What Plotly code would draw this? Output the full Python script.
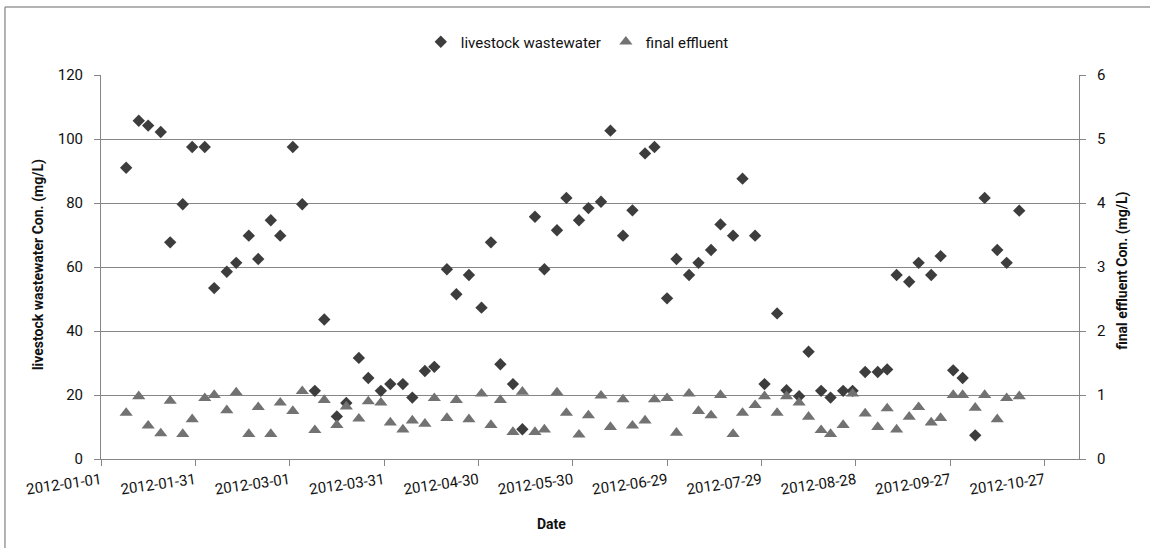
import plotly.graph_objects as go

# Sampling dates (twice a week, 2012)
dates = [
    "2012-01-09", "2012-01-13", "2012-01-16", "2012-01-20", "2012-01-23", "2012-01-27",
    "2012-01-30", "2012-02-03", "2012-02-06", "2012-02-10", "2012-02-13", "2012-02-17",
    "2012-02-20", "2012-02-24", "2012-02-27", "2012-03-02", "2012-03-05", "2012-03-09",
    "2012-03-12", "2012-03-16", "2012-03-19", "2012-03-23", "2012-03-26", "2012-03-30",
    "2012-04-02", "2012-04-06", "2012-04-09", "2012-04-13", "2012-04-16", "2012-04-20",
    "2012-04-23", "2012-04-27", "2012-05-01", "2012-05-04", "2012-05-07", "2012-05-11",
    "2012-05-14", "2012-05-18", "2012-05-21", "2012-05-25", "2012-05-28", "2012-06-01",
    "2012-06-04", "2012-06-08", "2012-06-11", "2012-06-15", "2012-06-18", "2012-06-22",
    "2012-06-25", "2012-06-29", "2012-07-02", "2012-07-06", "2012-07-09", "2012-07-13",
    "2012-07-16", "2012-07-20", "2012-07-23", "2012-07-27", "2012-07-30", "2012-08-03",
    "2012-08-06", "2012-08-10", "2012-08-13", "2012-08-17", "2012-08-20", "2012-08-24",
    "2012-08-27", "2012-08-31", "2012-09-04", "2012-09-07", "2012-09-10", "2012-09-14",
    "2012-09-17", "2012-09-21", "2012-09-24", "2012-09-28", "2012-10-01", "2012-10-05",
    "2012-10-08", "2012-10-12", "2012-10-15", "2012-10-19",
]

# Livestock wastewater concentration (mg/L), left axis
livestock = [
    91.0, 105.7, 104.2, 102.2, 67.7, 79.6,
    97.5, 97.5, 53.4, 58.5, 61.3, 69.8,
    62.5, 74.6, 69.8, 97.5, 79.6, 21.3,
    43.6, 13.3, 17.5, 31.6, 25.3, 21.3,
    23.4, 23.4, 19.2, 27.5, 28.8, 59.3,
    51.5, 57.5, 47.3, 67.7, 29.6, 23.4,
    9.3, 75.7, 59.3, 71.5, 81.6, 74.6,
    78.4, 80.4, 102.6, 69.8, 77.7, 95.5,
    97.5, 50.2, 62.5, 57.5, 61.3, 65.3,
    73.3, 69.8, 87.6, 69.8, 23.4, 45.5,
    21.5, 19.6, 33.5, 21.3, 19.2, 21.3,
    21.3, 27.2, 27.2, 28.0, 57.5, 55.4,
    61.3, 57.5, 63.4, 27.7, 25.3, 7.4,
    81.6, 65.3, 61.3, 77.6,
]

# Final effluent concentration (mg/L), right axis
effluent = [
    0.72, 0.98, 0.52, 0.40, 0.91, 0.39,
    0.62, 0.95, 1.00, 0.76, 1.04, 0.39,
    0.81, 0.39, 0.88, 0.75, 1.06, 0.45,
    0.92, 0.53, 0.82, 0.63, 0.90, 0.88,
    0.57, 0.46, 0.60, 0.55, 0.95, 0.64,
    0.92, 0.62, 1.02, 0.53, 0.92, 0.42,
    1.05, 0.42, 0.46, 1.04, 0.72, 0.38,
    0.68, 0.99, 0.50, 0.93, 0.52, 0.60,
    0.93, 0.95, 0.41, 1.02, 0.75, 0.68,
    1.00, 0.39, 0.72, 0.84, 0.98, 0.72,
    0.98, 0.88, 0.66, 0.45, 0.39, 0.53,
    1.02, 0.71, 0.50, 0.79, 0.46, 0.66,
    0.81, 0.57, 0.64, 1.00, 1.00, 0.80,
    1.00, 0.62, 0.95, 0.98,
]

FONT = "Roboto"
AXIS_GRAY = "#868686"
TEXT = "#111111"

fig = go.Figure()
fig.add_trace(go.Scatter(
    x=dates, y=livestock, mode="markers", name="livestock wastewater",
    marker=dict(symbol="diamond", size=9.5, color="#3d3d3d"),
    yaxis="y",
))
fig.add_trace(go.Scatter(
    x=dates, y=effluent, mode="markers", name="final effluent",
    marker=dict(symbol="triangle-up", size=11.5, color="#727272"),
    yaxis="y2",
))

fig.update_layout(
    width=1150, height=548,
    margin=dict(l=101, r=71, t=75, b=89),
    paper_bgcolor="white", plot_bgcolor="white",
    font=dict(family=FONT, size=15, color=TEXT),
    showlegend=True,
    legend=dict(
        orientation="h", x=0.487, y=1.086, xanchor="center", yanchor="middle",
        font=dict(family=FONT, size=15, color=TEXT),
        itemwidth=30, tracegroupgap=0,
    ),
    xaxis=dict(
        type="date",
        range=["2012-01-01", "2012-11-07"],
        tick0="2012-01-01", dtick=30 * 86400000,
        tickformat="%Y-%m-%d", tickangle=-8,
        showgrid=False, zeroline=False,
        showline=True, linecolor=AXIS_GRAY, linewidth=1,
        ticks="outside", ticklen=6, tickcolor=AXIS_GRAY,
        tickfont=dict(family=FONT, size=15, color=TEXT),
    ),
    yaxis=dict(
        range=[0, 120], dtick=20, tick0=0,
        showgrid=True, gridcolor=AXIS_GRAY, gridwidth=1,
        zeroline=False,
        showline=True, linecolor=AXIS_GRAY, linewidth=1,
        ticks="outside", ticklen=6, tickcolor=AXIS_GRAY,
        ticklabelstandoff=8,
        tickfont=dict(family=FONT, size=15, color=TEXT),
    ),
    yaxis2=dict(
        range=[0, 6], dtick=1, tick0=0,
        overlaying="y", side="right",
        showgrid=False, zeroline=False,
        showline=True, linecolor=AXIS_GRAY, linewidth=1,
        ticks="outside", ticklen=6, tickcolor=AXIS_GRAY,
        ticklabelstandoff=8,
        tickfont=dict(family=FONT, size=15, color=TEXT),
    ),
)

# Axis titles
fig.add_annotation(
    text="<b>livestock wastewater Con. (mg/L)</b>", textangle=-90,
    xref="paper", yref="paper", x=-0.0644, y=0.505,
    xanchor="center", yanchor="middle",
    showarrow=False, font=dict(family=FONT, size=14, color=TEXT),
)
fig.add_annotation(
    text="<b>final effluent Con. (mg/L)</b>", textangle=-90,
    xref="paper", yref="paper", x=1.045, y=0.49,
    xanchor="center", yanchor="middle",
    showarrow=False, font=dict(family=FONT, size=14, color=TEXT),
)
fig.add_annotation(
    text="<b>Date</b>",
    xref="paper", yref="paper", x=0.461, y=-0.169,
    xanchor="center", yanchor="middle",
    showarrow=False, font=dict(family=FONT, size=14, color=TEXT),
)

# Chart-area frame: only its top and left edges fall inside the page
FRAME = dict(color="#9a9a9a", width=1.5)
fig.add_shape(type="line", xref="paper", yref="paper",
              x0=-0.0982, x1=1.2, y0=1.177, y1=1.177, line=FRAME)
fig.add_shape(type="line", xref="paper", yref="paper",
              x0=-0.0982, x1=-0.0982, y0=-0.4, y1=1.177, line=FRAME)

fig.write_html("out.html")
